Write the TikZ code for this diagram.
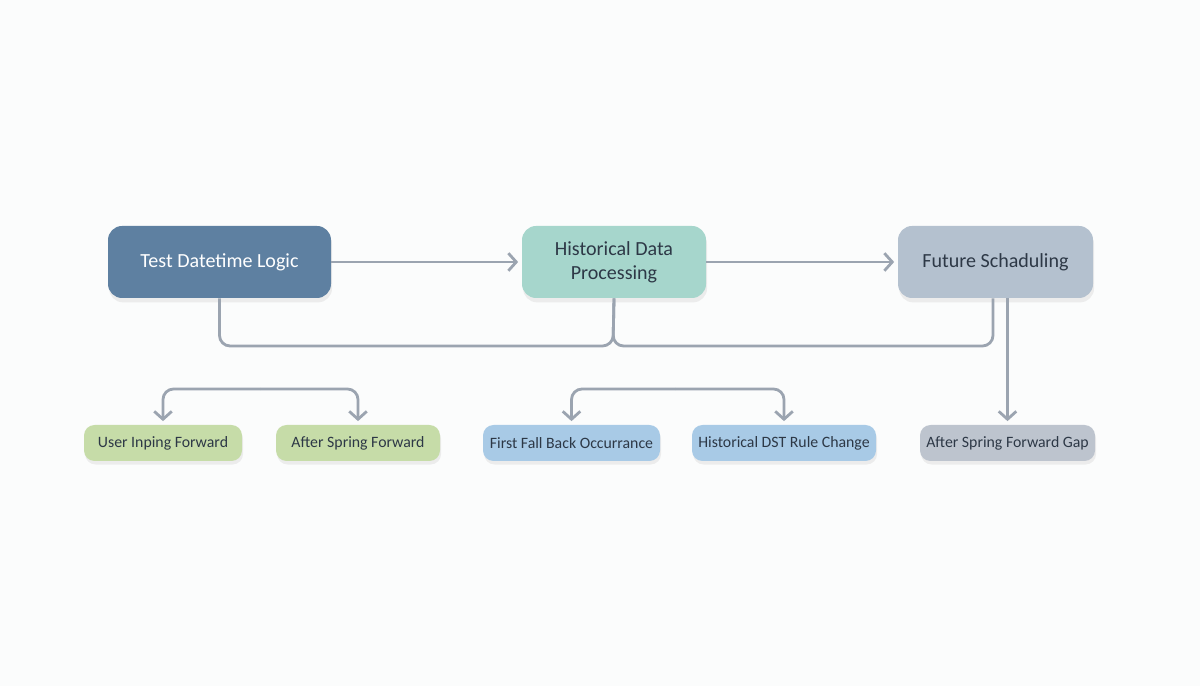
\documentclass[tikz,border=0pt]{standalone}
\usepackage{fontspec}
\setmainfont{Carlito}
\usetikzlibrary{arrows.meta, positioning, calc, shadows}
\definecolor{bgwhite}{RGB}{251, 252, 252}
\definecolor{logicblue}{RGB}{94, 128, 161}
\definecolor{mintgreen}{RGB}{166, 214, 204}
\definecolor{slategray}{RGB}{180, 193, 207}
\definecolor{leafgreen}{RGB}{198, 220, 168}
\definecolor{skyblue}{RGB}{168, 202, 230}
\definecolor{ashgray}{RGB}{189, 196, 206}
\definecolor{linegray}{RGB}{155, 164, 176}
\definecolor{inkdark}{RGB}{45, 56, 70}

\begin{document}
\begin{tikzpicture}[
    mainbox/.style={rectangle, rounded corners=8pt, minimum height=1.44cm, align=center, font=\fontsize{11.4}{13.5}\selectfont, text=inkdark, drop shadow={opacity=0.12, shadow xshift=0.6pt, shadow yshift=-2.5pt}},
    subbox/.style={rectangle, rounded corners=6pt, minimum height=0.72cm, align=center, font=\fontsize{9}{11}\selectfont, text=inkdark, drop shadow={opacity=0.12, shadow xshift=0.6pt, shadow yshift=-2pt}},
    line/.style={draw=linegray, line width=1.6pt, rounded corners=6pt},
    arrow/.style={line, -{Straight Barb[length=4.5pt, width=10pt, line width=1.6pt]}, shorten >=2pt}
]
    \fill[bgwhite] (0, 0) rectangle (24, 13.72);
    \useasboundingbox (0, 0) rectangle (24, 13.72);

    % Top row
    \node[mainbox, fill=logicblue, text=white, minimum width=4.46cm] (tdl) at (4.39, 8.48) {Test Datetime Logic};
    \node[mainbox, fill=mintgreen, minimum width=3.68cm] (hdp) at (12.28, 8.48) {Historical Data\\Processing};
    \node[mainbox, fill=slategray, minimum width=3.9cm] (fs) at (19.91, 8.48) {Future Schaduling};
    \draw[arrow] (tdl) -- (hdp);
    \draw[arrow] (hdp) -- (fs);

    % Bus under the top row
    \coordinate (bus) at (12.26, 6.8);
    \draw[line] (tdl.south) |- (bus) -- (hdp.south);
    \draw[line] ([xshift=-0.05cm]fs.south) |- (bus) -- (hdp.south);

    % Bottom row
    \node[subbox, fill=leafgreen, minimum width=3.16cm] (uif) at (3.26, 4.86) {User Inping Forward};
    \node[subbox, fill=leafgreen, minimum width=3.28cm] (asf) at (7.16, 4.86) {After Spring Forward};
    \node[subbox, fill=skyblue, minimum width=3.54cm] (ffb) at (11.43, 4.86) {First Fall Back Occurrance};
    \node[subbox, fill=skyblue, minimum width=3.68cm] (hdst) at (15.68, 4.86) {Historical DST Rule Change};
    \node[subbox, fill=ashgray, minimum width=3.5cm] (asfg) at (20.15, 4.86) {After Spring Forward Gap};

    % Split arrows
    \coordinate (splitgreen) at (5.2, 5.94);
    \coordinate (splitblue) at (13.5, 5.94);
    \draw[arrow] (splitgreen) -| (uif.north);
    \draw[arrow] (splitgreen) -| (asf.north);
    \draw[arrow] (splitblue) -| (ffb.north);
    \draw[arrow] (splitblue) -| (hdst.north);
    \draw[arrow] (asfg.north |- fs.south) -- (asfg.north);
\end{tikzpicture}
\end{document}
